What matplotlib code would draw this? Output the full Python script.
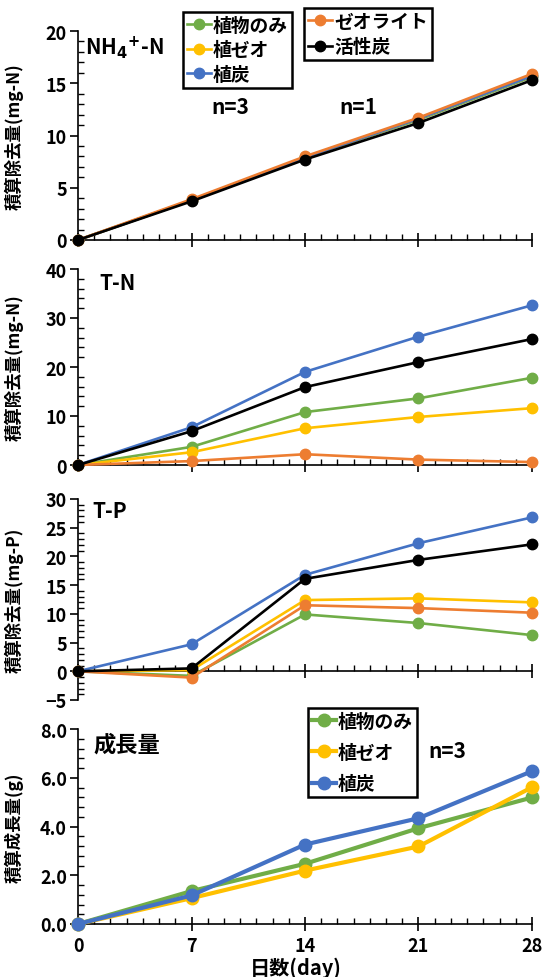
import numpy as np
import matplotlib
matplotlib.use("Agg")
import matplotlib.pyplot as plt
from matplotlib.ticker import MultipleLocator, FormatStrFormatter

plt.rcParams['font.family'] = ['Noto Sans CJK JP', 'DejaVu Sans']
plt.rcParams['font.weight'] = 'bold'
plt.rcParams['axes.labelweight'] = 'bold'

# Data
days = [0, 7, 14, 21, 28]
series_names = ['植物のみ', '植ゼオ', '植炭', 'ゼオライト', '活性炭']
colors = ['#70AD47', '#FFC000', '#4472C4', '#ED7D31', '#000000']

nh4_plant = [0, 3.8, 7.9, 11.5, 15.6]
nh4_zeo_plant = [0, 3.8, 7.9, 11.6, 15.7]
nh4_char_plant = [0, 3.8, 7.9, 11.6, 15.7]
nh4_zeolite = [0, 3.9, 8.0, 11.7, 15.9]
nh4_carbon = [0, 3.7, 7.7, 11.2, 15.3]

tn_plant = [0, 3.7, 10.8, 13.6, 17.8]
tn_zeo_plant = [0, 2.6, 7.5, 9.8, 11.6]
tn_char_plant = [0, 7.7, 19.0, 26.2, 32.6]
tn_zeolite = [0, 0.8, 2.2, 1.1, 0.6]
tn_carbon = [0, 6.9, 15.9, 21.0, 25.7]

tp_plant = [0, -0.8, 9.9, 8.4, 6.3]
tp_zeo_plant = [0, 0.2, 12.4, 12.7, 12.0]
tp_char_plant = [0, 4.7, 16.8, 22.3, 26.8]
tp_zeolite = [0, -1.1, 11.5, 11.0, 10.2]
tp_carbon = [0, 0.5, 16.1, 19.4, 22.1]

gr_plant = [0, 1.35, 2.47, 3.93, 5.19]
gr_zeo_plant = [0, 1.06, 2.19, 3.18, 5.61]
gr_char_plant = [0, 1.17, 3.26, 4.34, 6.27]

W, H = 550, 978
fig = plt.figure(figsize=(5.5, 9.78), dpi=100)


def make_ax(top, bottom):
    l, r = 78 / W, 532 / W
    return fig.add_axes([l, 1 - bottom / H, r - l, (bottom - top) / H])


def style(ax, major, minor, ymin, ymax, show_x=False):
    ax.set_xlim(0, 28)
    ax.set_ylim(ymin, ymax)
    for s in ['top', 'right']:
        ax.spines[s].set_visible(False)
    for s in ['left', 'bottom']:
        ax.spines[s].set_linewidth(1.2)
    ax.xaxis.set_major_locator(MultipleLocator(7))
    ax.xaxis.set_minor_locator(MultipleLocator(1))
    ax.yaxis.set_major_locator(MultipleLocator(major))
    ax.yaxis.set_minor_locator(MultipleLocator(minor))
    ax.tick_params(axis='y', which='major', direction='out', length=6, width=1.2,
                   labelsize=13, pad=2)
    ax.tick_params(axis='y', which='minor', direction='in', length=4, width=1)
    ax.tick_params(axis='x', which='major', direction='inout', length=10, width=1.2,
                   labelsize=13, labelbottom=show_x, pad=4)
    ax.tick_params(axis='x', which='minor', direction='in', length=4, width=1)
    for lab in ax.get_yticklabels() + ax.get_xticklabels():
        lab.set_fontweight('bold')


def draw(ax, data, lw=1.9, ms=7.5):
    handles = []
    for vals, c, name in zip(data, colors, series_names):
        h, = ax.plot(days, vals, color=c, lw=lw, marker='o', ms=ms, label=name,
                     clip_on=False, zorder=3)
        handles.append(h)
    return handles


def px_text(x, y, s, size):
    fig.text(x / W, 1 - y / H, s, fontsize=size, fontweight='bold',
             ha='center', va='center')


leg_kw = dict(frameon=True, fancybox=False, edgecolor='black', framealpha=1,
              handlelength=1.3, handletextpad=0.1, borderpad=0.2, borderaxespad=0,
              prop={'weight': 'bold', 'size': 13.5})

# Panel 1
ax1 = make_ax(32, 241)
h1 = draw(ax1, [nh4_plant, nh4_zeo_plant, nh4_char_plant, nh4_zeolite, nh4_carbon])
style(ax1, 5, 1, 0, 20)
ax1.set_ylabel('積算除去量(mg-N)', fontsize=12.5)
ax1.yaxis.set_label_coords(-0.12, 0.5)
px_text(124, 48, r'NH$_\mathbf{4}$$^\mathbf{+}$-N', 15)
px_text(230, 108, 'n=3', 15)
px_text(358, 108, 'n=1', 15)
lg1 = fig.legend(handles=h1[:3], loc='upper left',
                 bbox_to_anchor=(183 / W, 1 - 13 / H), labelspacing=0.3, **leg_kw)
lg2 = fig.legend(handles=h1[3:], loc='upper left',
                 bbox_to_anchor=(304 / W, 1 - 9 / H), labelspacing=0.35, **leg_kw)
for lg in (lg1, lg2):
    lg.get_frame().set_linewidth(1.8)

# Panel 2
ax2 = make_ax(270, 466)
draw(ax2, [tn_plant, tn_zeo_plant, tn_char_plant, tn_zeolite, tn_carbon])
style(ax2, 10, 2, 0, 40)
ax2.set_ylabel('積算除去量(mg-N)', fontsize=12.5)
ax2.yaxis.set_label_coords(-0.12, 0.5)
px_text(118, 283, 'T-N', 15)

# Panel 3
ax3 = make_ax(500, 701)
draw(ax3, [tp_plant, tp_zeo_plant, tp_char_plant, tp_zeolite, tp_carbon])
style(ax3, 5, 1, -5, 30)
ax3.spines['bottom'].set_position(('data', 0))
ax3.set_ylabel('積算除去量(mg-P)', fontsize=12.5)
ax3.yaxis.set_label_coords(-0.12, 0.5)
px_text(110, 512, 'T-P', 15)

# Panel 4
ax4 = make_ax(730, 925)
h4 = draw(ax4, [gr_plant, gr_zeo_plant, gr_char_plant], lw=3, ms=9)
style(ax4, 2, 0.4, 0, 8, show_x=True)
ax4.yaxis.set_major_formatter(FormatStrFormatter('%.1f'))
for lab in ax4.get_yticklabels():
    lab.set_fontweight('bold')
ax4.set_ylabel('積算成長量(g)', fontsize=12.5)
ax4.yaxis.set_label_coords(-0.12, 0.5)
px_text(296, 968, '日数(day)', 14.5)
px_text(127, 745, '成長量', 16)
px_text(447, 752, 'n=3', 15)
lg4 = fig.legend(handles=h4, loc='upper left', bbox_to_anchor=(308 / W, 1 - 709 / H),
                 labelspacing=0.65, **leg_kw)
lg4.get_frame().set_linewidth(1.8)

fig.savefig('out.png', dpi=100)
